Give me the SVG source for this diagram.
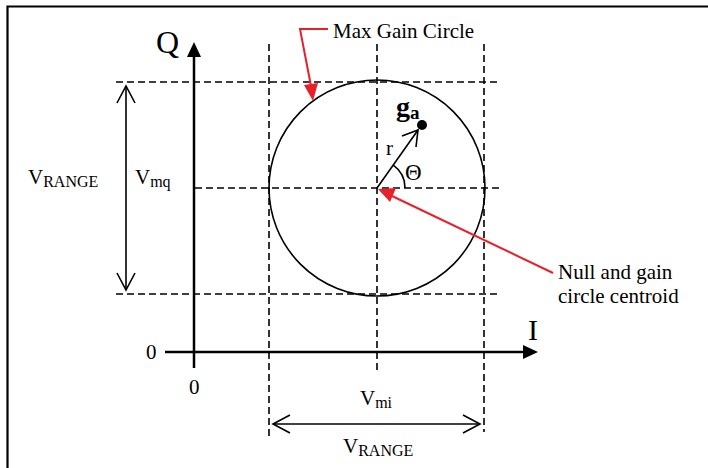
<svg xmlns="http://www.w3.org/2000/svg" width="708" height="468" viewBox="0 0 708 468">
<style>
text{font-family:"Liberation Serif","Times New Roman",serif;fill:#000}
.t{font-size:21px}
.sub{font-size:16px}
.dash{stroke:#000;stroke-width:1.6;stroke-dasharray:7 4;fill:none}
.ax{stroke:#000;stroke-width:2.5;fill:none}
.thin{stroke:#000;stroke-width:1.6;fill:none}
.red{stroke:#e8202a;stroke-width:2;fill:none}
</style>
<g id="frame">
<path d="M7.5,468 V6.5 H708" stroke="#000" stroke-width="2.2" fill="none"/>
</g>
<g id="grid">
<line class="dash" x1="116" y1="82" x2="500" y2="82"/>
<line class="dash" x1="195" y1="188" x2="500" y2="188"/>
<line class="dash" x1="116" y1="294" x2="500" y2="294"/>
<line class="dash" x1="269" y1="44" x2="269" y2="440"/>
<line class="dash" x1="377" y1="44" x2="377" y2="370"/>
<line class="dash" x1="484" y1="44" x2="484" y2="432"/>
</g>
<g id="circle">
<circle cx="377" cy="188" r="108" class="thin"/>
</g>
<g id="axes">
<line class="ax" x1="194" y1="368" x2="194" y2="56"/>
<path d="M187,57 L194,42 L201,57 Z" fill="#000"/>
<line class="ax" x1="165" y1="352" x2="524" y2="352"/>
<path d="M523,345 L538,352 L523,359 Z" fill="#000"/>
<text x="156" y="53" style="font-size:32px">Q</text>
<text x="528" y="340" style="font-size:30px">I</text>
<text class="t" x="146" y="359">0</text>
<text class="t" x="189" y="394">0</text>
</g>
<g id="connectors">
<line class="thin" x1="126" y1="86" x2="126" y2="290"/>
<path class="thin" d="M117,103 L126,86 L135,103"/>
<path class="thin" d="M117,273 L126,290 L135,273"/>
<line class="thin" x1="273" y1="424" x2="480" y2="424"/>
<path class="thin" d="M290,415 L273,424 L290,433"/>
<path class="thin" d="M463,415 L480,424 L463,433"/>
<line class="thin" x1="377" y1="188" x2="418" y2="130"/>
<path class="thin" d="M402,136 L418,130 L416,147"/>
<path class="thin" d="M393.3,165.2 A28,28 0 0 1 405,188"/>
<polyline class="red" points="328,29 300,29 311,86"/>
<path d="M304,85 L313,101 L318,83 Z" fill="#e8202a"/>
<line class="red" x1="553" y1="273" x2="392" y2="196"/>
<path d="M378,189 L396,188 L390,202 Z" fill="#e8202a"/>
</g>
<g id="labels">
<text class="t" x="333" y="38">Max Gain Circle</text>
<text class="t" x="558" y="279">Null and gain</text>
<text class="t" x="558" y="303">circle centroid</text>
<text class="t" x="28" y="184">V<tspan class="sub" dy="3">RANGE</tspan></text>
<text class="t" x="135" y="184">V<tspan class="sub" dy="3">mq</tspan></text>
<text class="t" x="360" y="405">V<tspan class="sub" dy="3">mi</tspan></text>
<text class="t" x="343" y="453">V<tspan class="sub" dy="3">RANGE</tspan></text>
<text class="t" x="386" y="155">r</text>
<text x="405" y="180" style="font-size:23px">Θ</text>
<text x="396" y="116" style="font-size:28px;font-weight:bold">g<tspan style="font-size:19px" dy="3">a</tspan></text>
</g>
<g id="ga">
<circle cx="422" cy="125" r="5" fill="#000"/>
</g>
</svg>
